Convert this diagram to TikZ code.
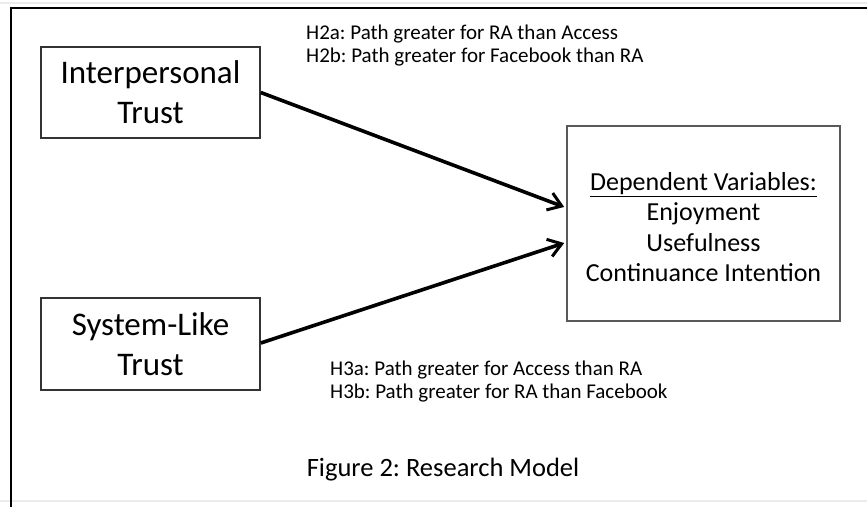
\documentclass[tikz,border=0pt]{standalone}
\usepackage{fontspec}
\setmainfont{Carlito}
\usetikzlibrary{arrows.meta,calc}
\frenchspacing
\begin{document}
\begin{tikzpicture}[x=1pt,y=-1pt,
  trustbox/.style={draw=black!80, line width=1.6pt, minimum width=219pt, minimum height=91pt, inner sep=0pt, align=center, font=\fontsize{33}{40}\selectfont},
  depbox/.style={draw=black!65, line width=1.6pt, minimum width=273pt, minimum height=195pt, inner sep=0pt},
  hyp/.style={anchor=north west, align=left, inner sep=0pt, font=\fontsize{21}{23}\selectfont},
  path/.style={line width=3.6pt, -{Straight Barb[length=13pt,width=18pt,line width=3pt]}}
]
\useasboundingbox (0,0) rectangle (867,507);
\fill[white] (0,0) rectangle (867,507);
% outer frame
\draw[black!8, line width=2pt] (0,3) -- (867,3);
\draw[black!8, line width=2pt] (0,501) -- (867,501);
\draw[line width=2.8pt] (11,507) -- (11,8) -- (867,8);
% boxes
\node[trustbox] (ip) at (150.5,92.5) {\raisebox{0pt}{Interpersonal}\\Trust};
\node[trustbox, minimum height=92pt] (sl) at (150.5,344) {System-Like\\Trust};
\node[depbox] (dep) at (703.5,223.5) {};
\node[align=center, inner sep=0pt, font=\fontsize{26}{30.5}\selectfont] (deptext) at (703.5,227) {\underline{Dependent Variables:}\\Enjoyment\\Usefulness\\Continuance Intention};
% connectors
\coordinate (depin1) at ($(dep.west)+(-2,-16.5)$);
\coordinate (depin2) at ($(dep.west)+(-2,19.5)$);
\draw[path] (ip.east) -- (depin1);
\draw[path] ($(sl.east)+(0,-1)$) -- (depin2);
% hypothesis texts
\node[hyp] (h2) at (306,25) {H2a: Path greater for RA than Access\\H2b: Path greater for Facebook than RA};
\node[hyp] (h3) at (330,361) {H3a: Path greater for Access than RA\\H3b: Path greater for RA than Facebook};
% caption
\node[inner sep=0pt, font=\fontsize{26.5}{30}\selectfont] (cap) at (443,470) {Figure 2: Research Model};
\end{tikzpicture}
\end{document}
